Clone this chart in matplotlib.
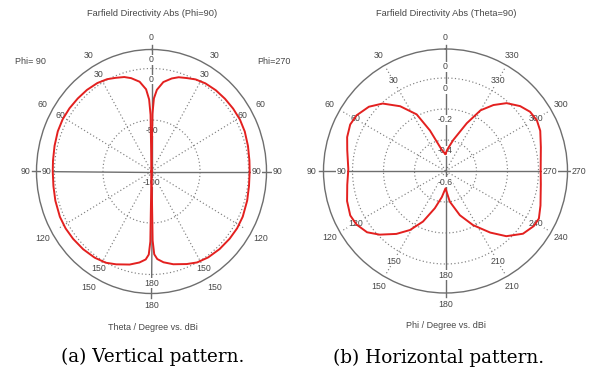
import numpy as np
import matplotlib
matplotlib.use("Agg")
import matplotlib.pyplot as plt

W, H, DPI = 595, 374, 100

# Vertical cut: directivity (dBi) against theta (deg) on the Phi=90 and Phi=270 halves
theta_phi90 = [0, 1, 2, 4, 8, 13, 17, 22, 27, 33, 40, 47, 54, 61, 68, 76, 84, 90,
               98, 106, 115, 122, 129, 137, 145, 152, 158, 166, 172, 176, 178, 179, 180]
dbi_phi90 = [-100, -45, -30, -20, -12, -7, -4.1, -1.9, 0.6, 2.4, 3.4, 3.9, 4.4, 4.6,
             4.1, 2.9, 2.0, 1.7, 2.0, 3.0, 4.1, 4.3, 3.9, 3.2, 2.1, 0.3, -2.8, -6.9,
             -10.8, -14.4, -19.3, -32, -100]
theta_phi270 = theta_phi90[:]
dbi_phi270 = [-100, -44, -29, -20.5, -12.3, -7.3, -4.3, -2.2, 0.3, 2.0, 3.0, 3.5, 3.9,
              4.1, 3.6, 2.4, 1.4, 1.1, 1.4, 2.5, 3.7, 4.0, 3.6, 2.9, 1.8, 0.0, -3.1,
              -7.2, -11.0, -14.8, -19.6, -33, -100]

# Horizontal cut: directivity (dBi) against phi (deg) at Theta=90
phi_theta90 = [0, 5, 10, 13, 21, 27, 35, 43, 50, 58, 64, 71, 78, 89, 98, 107, 115, 121,
               128, 134, 142, 149, 156, 164, 172, 180, 188, 198, 207, 216, 223, 231, 238,
               243, 250, 262, 271, 284, 293, 299, 305, 311, 318, 324, 330, 336, 346, 355, 360]
dbi_theta90 = [-0.49, -0.48, -0.46, -0.44, -0.32, -0.19, -0.09, -0.005, 0.045, 0.077,
               0.084, 0.071, 0.048, 0.027, 0.04, 0.064, 0.078, 0.07, 0.042, -0.009,
               -0.085, -0.156, -0.243, -0.35, -0.43, -0.488, -0.40, -0.30, -0.208,
               -0.109, -0.025, 0.043, 0.071, 0.076, 0.052, 0.021, 0.014, 0.034, 0.064,
               0.074, 0.066, 0.038, -0.011, -0.074, -0.148, -0.263, -0.394, -0.46, -0.49]

vert_ticks = [0, 30, 60, 90, 120, 150, 180]
vert_inner_ticks = [0, 30, 60, 90, 150, 180]
horiz_ticks = [0, 30, 60, 90, 120, 150, 180, 210, 240, 270, 300, 330]
vert_rlevels = [0, -50, -100]
horiz_rlevels = [0, -0.2, -0.4, -0.6]

RED = "#e3201f"
GRID = "#808080"
AXIS = "#6e6e6e"
TXT = "#474747"
SANS = ["Liberation Sans", "DejaVu Sans"]


def fx(x):
    return x / W


def fy(y):
    return 1 - y / H


fig = plt.figure(figsize=(W / DPI, H / DPI), dpi=DPI)
fig.patch.set_facecolor("white")


def setup(ax, rmin, rmax):
    ax.set_theta_zero_location("N")
    ax.set_theta_direction(1)
    ax.set_ylim(rmin, rmax)
    ax.set_aspect("auto")
    ax.set_xticks([])
    ax.set_yticks([])
    ax.grid(False)
    ax.spines["polar"].set_color(AXIS)
    ax.spines["polar"].set_linewidth(1.0)
    ax.set_facecolor("none")


def draw_frame(ax, rmin, rmax, levels, spoke_angles, spoke_f):
    span = rmax - rmin
    t = np.linspace(0, 2 * np.pi, 721)
    for lv in levels:
        if lv > rmin:
            ax.plot(t, np.full_like(t, lv), color=GRID, lw=0.85,
                    ls=(0, (1, 2)), zorder=1)
    for a in spoke_angles:
        ax.plot([np.deg2rad(a)] * 2, [rmin, rmin + spoke_f * span], color=GRID,
                lw=0.85, ls=(0, (1, 2)), zorder=1)
    for a in (0, 90, 180, 270):
        ax.plot([np.deg2rad(a)] * 2, [rmin, rmin + 1.035 * span], color=AXIS,
                lw=1.0, zorder=2, clip_on=False)


def label(ax, ang, f, rmin, rmax, text):
    ax.text(np.deg2rad(ang), rmin + f * (rmax - rmin), text, ha="center",
            va="center", fontsize=6.3, color=TXT, family=SANS, zorder=3,
            clip_on=False,
            bbox=dict(facecolor="white", edgecolor="none", pad=0.4))


def rlabel(ax, lv, text):
    ax.annotate(text, xy=(0, lv), xytext=(0, -11), textcoords="offset pixels",
                ha="center", va="center", fontsize=6.3, color=TXT, family=SANS,
                zorder=3, annotation_clip=False,
                bbox=dict(facecolor="white", edgecolor="none", pad=0.2))


# ---- (a) vertical pattern ----
axL = fig.add_axes([fx(36.5), fy(293.5), 230 / W, 244 / H], projection="polar")
rminL, rmaxL = -100, 18.44
setup(axL, rminL, rmaxL)
draw_frame(axL, rminL, rmaxL, vert_rlevels, [30, 60, 120, 150, 210, 240, 300, 330], 0.94)
for d in vert_ticks:
    for a in {d, (360 - d) % 360}:
        label(axL, a, 1.095, rminL, rmaxL, str(d))
for d in vert_inner_ticks:
    for a in {d, (360 - d) % 360}:
        label(axL, a, 0.915, rminL, rmaxL, str(d))
for lv in vert_rlevels:
    rlabel(axL, lv, f"{lv:g}")
axL.plot(np.deg2rad(theta_phi90), dbi_phi90, color=RED, lw=1.4, zorder=5)
axL.plot(-np.deg2rad(theta_phi270), dbi_phi270, color=RED, lw=1.4, zorder=5)

# ---- (b) horizontal pattern ----
axR = fig.add_axes([fx(323.5), fy(293), 244 / W, 244 / H], projection="polar")
rminR, rmaxR = -0.6, 0.187
setup(axR, rminR, rmaxR)
draw_frame(axR, rminR, rmaxR, horiz_rlevels, [30, 60, 120, 150, 210, 240, 300, 330], 0.98)
for d in horiz_ticks:
    label(axR, d, 1.095, rminR, rmaxR, str(d))
    label(axR, d, 0.855, rminR, rmaxR, str(d))
for lv in horiz_rlevels:
    rlabel(axR, lv, f"{lv:g}")
axR.plot(np.deg2rad(phi_theta90), dbi_theta90, color=RED, lw=1.4, zorder=5)

# ---- titles, side notes, axis captions ----
small = dict(color=TXT, family=SANS, ha="center", va="center")
fig.text(fx(152.5), fy(14), "Farfield Directivity Abs (Phi=90)", fontsize=6.7, **small)
fig.text(fx(446.5), fy(13), "Farfield Directivity Abs (Theta=90)", fontsize=6.7, **small)
fig.text(fx(30), fy(61), "Phi= 90", fontsize=6.5, **small)
fig.text(fx(274), fy(61), "Phi=270", fontsize=6.5, **small)
fig.text(fx(153), fy(327), "Theta / Degree vs. dBi", fontsize=6.5, **small)
fig.text(fx(446.5), fy(326), "Phi / Degree vs. dBi", fontsize=6.5, **small)

cap = dict(family=["DejaVu Serif"], fontsize=13.2, color="black", ha="center", va="center")
fig.text(fx(152.5), fy(357), "(a) Vertical pattern.", **cap)
fig.text(fx(439), fy(358), "(b) Horizontal pattern.", **cap)

fig.savefig("out.png", dpi=DPI, facecolor="white")
